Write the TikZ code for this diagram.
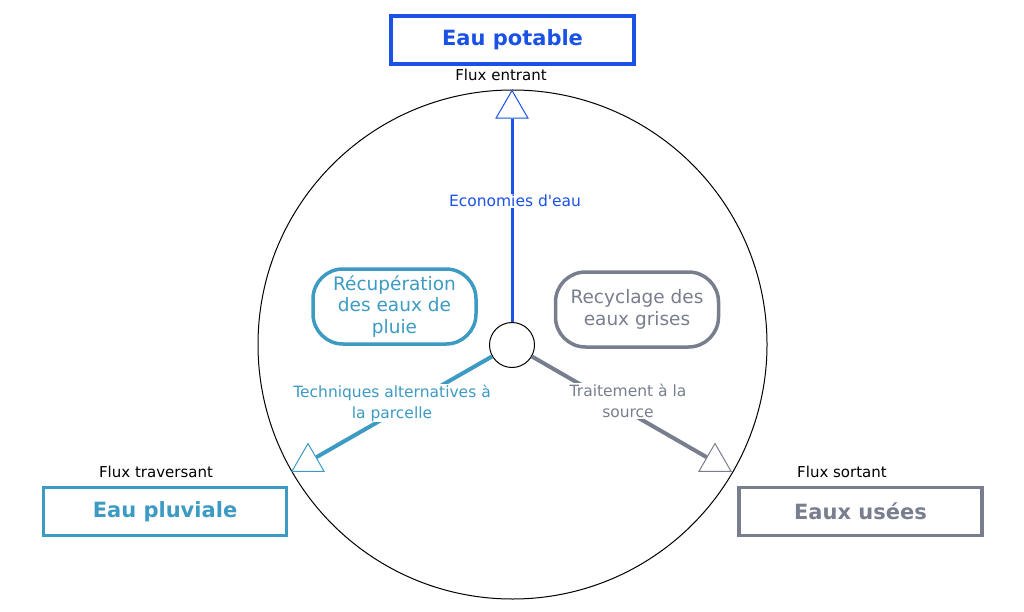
\documentclass[tikz,border=0pt]{standalone}
\usepackage{fontspec}
\setmainfont{DejaVu Sans}
\usetikzlibrary{shapes.geometric}
\definecolor{potable}{HTML}{1A52E6}
\definecolor{pluvial}{HTML}{3C9AC3}
\definecolor{usee}{HTML}{787E8D}
\tikzset{
  bigbox/.style = {draw, line width = 3.5pt, minimum width = 243pt, minimum height = 48pt, font = \fontsize{21}{25}\selectfont\bfseries},
  roundbox/.style = {draw, line width = 3.5pt, rounded corners = 30pt, minimum width = 163pt, minimum height = 75pt, align = center, font = \fontsize{18.5}{21.5}\selectfont},
  fluxlabel/.style = {font = \fontsize{15}{18}\selectfont},
  linklabel/.style = {fill = white, align = center, inner sep = 1pt, font = \fontsize{15.5}{21}\selectfont},
  outlet/.style = {regular polygon, regular polygon sides = 3, draw, fill = white, line width = 1pt, minimum size = 37pt, inner sep = 0pt}
}
\begin{document}
\begin{tikzpicture}[x = 1pt, y = -1pt]
\pgfmathsetlengthmacro\ringsize{509};
\pgfmathsetlengthmacro\hubsize{45};
\useasboundingbox (0,0) rectangle (1024,612);
\node[circle, draw, line width = 1pt, minimum size = \ringsize, inner sep = 0pt] (ring) at (512.5,344.5){};
\node[outlet, draw = potable] (tin) at (512,109){};
\node[outlet, draw = pluvial] (tcross) at (308,462){};
\node[outlet, draw = usee] (tout) at (715,462){};
\node[circle, draw, line width = 1pt, minimum size = \hubsize, inner sep = 0pt] (hub) at (512,345){};
\draw [potable, line width = 3pt] (hub) -- (tin);
\draw [pluvial, line width = 4pt] (hub) -- (tcross);
\draw [usee, line width = 4pt] (hub) -- (tout);
\node[linklabel, text = potable] (eco) at (515,201){Economies d\textquotesingle eau};
\node[linklabel, text = pluvial] (tech) at (392,403){Techniques alternatives à\\la parcelle};
\node[linklabel, text = usee] (trait) at (628,401){Traitement à la\\source};
\node[roundbox, color = pluvial] (recup) at (394.5,306.5){Récupération\\des eaux de\\pluie};
\node[roundbox, color = usee] (recyc) at (637,309.5){Recyclage des\\eaux grises};
\node[bigbox, color = potable] (potbox) at (512.5,40){Eau potable};
\node[bigbox, color = pluvial] (pluvbox) at (165,511.5){Eau pluviale};
\node[bigbox, color = usee] (usebox) at (860.5,511.5){Eaux usées};
\node[fluxlabel] (fin) at (501,75){Flux entrant};
\node[fluxlabel] (fcross) at (156,472){Flux traversant};
\node[fluxlabel] (fout) at (842,472){Flux sortant};
\end{tikzpicture}
\end{document}
